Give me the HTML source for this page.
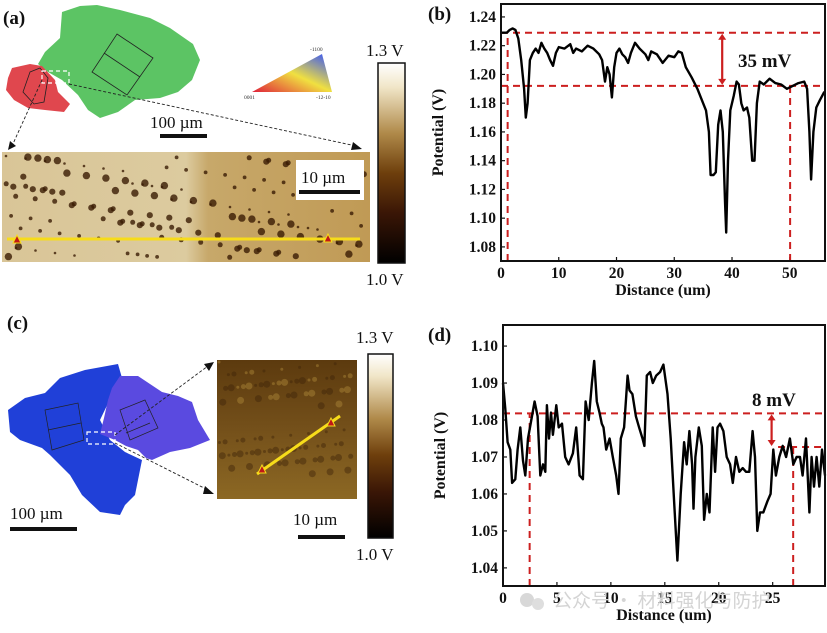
<!DOCTYPE html>
<html><head><meta charset="utf-8"><style>
html,body{margin:0;padding:0;background:#fff;}
svg{display:block;font-family:"Liberation Serif","Noto Serif CJK SC",serif;}
.tk{font-size:15.5px;font-weight:bold;fill:#111;}
.tt{font-size:16px;font-weight:bold;fill:#111;}
.pl{font-size:19px;font-weight:bold;fill:#111;}
</style></head><body>
<svg id="fig" width="827" height="633" viewBox="0 0 827 633" xmlns="http://www.w3.org/2000/svg">
<defs>
<linearGradient id="cbar" x1="0" y1="0" x2="0" y2="1">
<stop offset="0" stop-color="#ffffff"/><stop offset="0.12" stop-color="#f1e6c8"/><stop offset="0.35" stop-color="#b08a4a"/><stop offset="0.55" stop-color="#6e3f0c"/><stop offset="0.75" stop-color="#3a1606"/><stop offset="1" stop-color="#000"/>
</linearGradient>
<linearGradient id="afmA" x1="0" y1="0" x2="1" y2="0">
<stop offset="0" stop-color="#d9c597"/><stop offset="0.5" stop-color="#dccb9f"/><stop offset="0.56" stop-color="#c7a86a"/><stop offset="1" stop-color="#c09a55"/>
</linearGradient>
<linearGradient id="afmC" x1="0" y1="0" x2="0" y2="1">
<stop offset="0" stop-color="#5c3a0e"/><stop offset="0.5" stop-color="#74501a"/><stop offset="1" stop-color="#8c6824"/>
</linearGradient>
<linearGradient id="ipf" x1="0" y1="1" x2="1" y2="0">
<stop offset="0" stop-color="#e0203a"/><stop offset="0.5" stop-color="#f0e040"/><stop offset="1" stop-color="#3050ff"/>
</linearGradient>
</defs>

<!-- ===== Panel (a) ===== -->
<text class="pl" x="3" y="24">(a)</text>
<polygon fill="#5cc464" points="62,12 80,6 97,5 120,10 150,18 170,28 193,44 200,60 192,80 178,92 160,98 135,100 118,112 100,118 88,110 78,95 62,80 48,72 38,64 45,52 60,38"/>
<polygon fill="#e0474e" points="12,68 30,64 42,66 55,80 58,92 70,104 64,112 45,110 28,108 14,100 6,90 8,78"/>
<polygon fill="none" stroke="#222" stroke-width="0.8" points="117,34 153,58 127,95 92,72"/>
<line x1="104" y1="53" x2="140" y2="77" stroke="#222" stroke-width="0.8"/>
<polygon fill="none" stroke="#222" stroke-width="0.8" points="30,72 40,68 48,78 44,102 34,104 23,92"/>
<rect x="42" y="71" width="27" height="12" fill="none" stroke="#fff" stroke-width="1.2" stroke-dasharray="4,3"/>
<line x1="42" y1="80" x2="12" y2="146" stroke="#222" stroke-width="0.9" stroke-dasharray="3,2"/>
<polygon points="8,150 10,141 16,146" fill="#111"/>
<line x1="69" y1="84" x2="356" y2="146" stroke="#222" stroke-width="0.9" stroke-dasharray="3,2"/>
<polygon points="362,149 353,142 351,150" fill="#111"/>
<polygon fill="url(#ipf)" points="252,92 322,54 332,92"/>
<text x="310" y="51" font-size="5.5" fill="#333">-1100</text>
<text x="244" y="99" font-size="5.5" fill="#333">0001</text>
<text x="316" y="99" font-size="5.5" fill="#333">-12-10</text>
<text x="150" y="128" font-size="17" fill="#111">100 µm</text>
<rect x="160" y="134" width="47" height="4" fill="#111"/>
<rect id="afmArect" x="2" y="152" width="368" height="110" fill="url(#afmA)"/>
<g id="dotsA"></g>
<rect x="296" y="160" width="68" height="40" fill="#fff"/>
<text x="301" y="183" font-size="17" fill="#111">10 µm</text>
<rect x="299" y="190" width="61" height="4" fill="#111"/>
<line x1="7" y1="239" x2="360" y2="239" stroke="#f7dc1a" stroke-width="3"/>
<polygon points="17,235 13,243 21,243" fill="#c01818" stroke="#f7dc1a" stroke-width="1"/>
<polygon points="328,234 324,242 332,242" fill="#c01818" stroke="#f7dc1a" stroke-width="1"/>
<text x="366" y="56" font-size="17" fill="#111">1.3 V</text>
<rect x="378" y="63" width="27" height="200" fill="url(#cbar)" stroke="#111" stroke-width="1.5"/>
<text x="366" y="285" font-size="17" fill="#111">1.0 V</text>

<!-- ===== Panel (c) ===== -->
<text class="pl" x="7" y="329">(c)</text>
<polygon fill="#2040d8" points="8,410 25,398 45,393 60,378 85,370 118,364 122,378 112,395 100,420 110,440 125,452 142,460 140,470 135,495 125,505 120,515 100,512 82,495 70,475 50,455 42,448 20,440 10,432"/>
<polygon fill="#5a4ae0" points="120,376 138,376 150,384 162,392 178,396 192,402 198,420 210,440 190,448 170,452 152,460 146,458 138,450 126,446 115,440 100,434 104,418 108,400 112,388"/>
<polygon fill="none" stroke="#222" stroke-width="0.7" points="45,410 78,403 84,440 52,450"/>
<line x1="48" y1="430" x2="81" y2="423" stroke="#222" stroke-width="0.7"/>
<polygon fill="none" stroke="#222" stroke-width="0.7" points="120,410 145,400 158,428 130,440"/>
<line x1="126" y1="433" x2="150" y2="423" stroke="#222" stroke-width="0.7"/>
<rect x="87" y="432" width="28" height="12" fill="none" stroke="#fff" stroke-width="1.2" stroke-dasharray="4,3"/>
<line x1="115" y1="435" x2="208" y2="366" stroke="#222" stroke-width="0.9" stroke-dasharray="3,2"/>
<polygon points="214,362 204,364 209,371" fill="#111"/>
<line x1="115" y1="443" x2="208" y2="490" stroke="#222" stroke-width="0.9" stroke-dasharray="3,2"/>
<polygon points="214,494 205,486 203,494" fill="#111"/>
<rect x="217" y="360" width="140" height="139" fill="url(#afmC)"/>
<g id="texC"></g>
<line x1="257" y1="474" x2="340" y2="416" stroke="#f7dc1a" stroke-width="3"/>
<polygon points="262,465 258,473 266,473" fill="#c01818" stroke="#f7dc1a" stroke-width="1"/>
<polygon points="331,418 327,426 335,426" fill="#c01818" stroke="#f7dc1a" stroke-width="1"/>
<text x="10" y="519" font-size="17" fill="#111">100 µm</text>
<rect x="10" y="527" width="67" height="4" fill="#111"/>
<text x="293" y="525" font-size="17" fill="#111">10 µm</text>
<rect x="298" y="535" width="47" height="4" fill="#111"/>
<text x="356" y="343" font-size="17" fill="#111">1.3 V</text>
<rect x="368" y="354" width="25" height="184" fill="url(#cbar)" stroke="#111" stroke-width="1.5"/>
<text x="356" y="560" font-size="17" fill="#111">1.0 V</text>

<g id="chartB"></g>
<g id="chartD"></g>
<text x="553" y="607" font-size="19" fill="#d4d4d4" font-family="'Noto Sans CJK SC',sans-serif">公众号 · 材料强化与防护</text>
<circle cx="527" cy="600" r="7" fill="#d8d8d8"/><circle cx="538" cy="604" r="6" fill="#dedede"/>
</svg>
<script>
// ---- chart (b) data ----
const bTicksX = [0,10,20,30,40,50];
const bTicksY = [1.08,1.10,1.12,1.14,1.16,1.18,1.20,1.22,1.24];
const bDist = [0,0.5,1,1.5,2,2.5,3,3.5,4,4.3,4.6,5,5.5,6,6.5,7,7.5,8,8.5,9,9.5,10,11,12,12.5,13,14,15,16,17,17.5,18,18.4,18.8,19.2,19.6,20,20.5,21,21.5,22,22.5,23.2,24,25,25.5,26,27,28,29,30,30.7,31.3,32,33,34,35,35.5,36,36.3,36.8,37.2,37.6,38,38.4,38.8,39,39.3,39.7,40.3,40.8,41.2,41.6,42,42.6,43,43.5,43.9,44.3,44.8,45.5,46.5,47.5,48.5,49.5,50.5,51.5,52.5,53,53.4,53.7,54.1,54.6,55.2,56];
const bPot  = [1.229,1.229,1.229,1.231,1.232,1.231,1.225,1.21,1.19,1.17,1.18,1.21,1.215,1.218,1.215,1.222,1.218,1.215,1.21,1.206,1.215,1.219,1.218,1.221,1.215,1.218,1.216,1.22,1.218,1.214,1.21,1.195,1.205,1.2,1.184,1.205,1.215,1.218,1.214,1.212,1.208,1.215,1.222,1.218,1.214,1.21,1.216,1.214,1.208,1.213,1.212,1.216,1.215,1.205,1.198,1.19,1.18,1.175,1.16,1.13,1.13,1.132,1.165,1.175,1.16,1.11,1.09,1.14,1.175,1.185,1.195,1.193,1.18,1.175,1.177,1.17,1.14,1.14,1.18,1.195,1.193,1.197,1.194,1.193,1.19,1.192,1.194,1.195,1.19,1.16,1.127,1.16,1.177,1.182,1.188];
const bGuideY = [1.229,1.192];
const bGuideX = [1.15,50.06];
// ---- chart (d) data ----
const dTicksX = [0,5,10,15,20,25];
const dTicksY = [1.04,1.05,1.06,1.07,1.08,1.09,1.10];
const dDist = [0,0.21,0.43,0.68,0.84,1.14,1.35,1.6,1.85,2.07,2.32,2.62,2.93,3.21,3.46,3.71,3.92,4.07,4.26,4.45,4.63,4.94,5.16,5.47,5.77,6.08,6.48,6.79,7.1,7.41,7.66,7.94,8.24,8.45,8.7,8.95,9.16,9.32,9.57,9.88,10.18,10.49,10.71,10.92,11.23,11.55,11.73,12.0,12.32,12.62,12.93,13.11,13.33,13.64,13.89,14.2,14.56,14.87,15.25,15.55,15.86,16.17,16.47,16.79,17.03,17.28,17.53,17.66,17.84,18.15,18.43,18.64,18.89,19.14,19.44,19.66,19.88,20.13,20.43,20.74,21.05,21.3,21.6,21.91,22.22,22.53,22.83,23.14,23.36,23.57,23.82,24.13,24.51,24.81,25.06,25.3,25.61,25.93,26.24,26.6,26.91,27.22,27.53,27.77,28.09,28.4,28.61,28.83,29.07,29.32,29.57,29.85];
const dPot = [1.09,1.083,1.074,1.072,1.063,1.064,1.072,1.078,1.069,1.065,1.075,1.08,1.085,1.081,1.065,1.068,1.066,1.084,1.075,1.082,1.076,1.084,1.078,1.079,1.07,1.068,1.071,1.078,1.065,1.064,1.085,1.08,1.09,1.096,1.085,1.082,1.079,1.078,1.072,1.075,1.07,1.065,1.06,1.075,1.078,1.092,1.088,1.087,1.081,1.078,1.075,1.073,1.092,1.093,1.09,1.092,1.093,1.095,1.087,1.075,1.058,1.042,1.06,1.074,1.068,1.077,1.068,1.056,1.07,1.078,1.073,1.053,1.06,1.055,1.078,1.066,1.078,1.079,1.077,1.07,1.068,1.063,1.07,1.066,1.067,1.066,1.066,1.077,1.07,1.05,1.055,1.055,1.058,1.06,1.072,1.065,1.07,1.073,1.07,1.075,1.068,1.07,1.07,1.065,1.075,1.055,1.07,1.062,1.07,1.062,1.072,1.065];
const dGuideY = [1.0818,1.0727];
const dGuideX = [2.47,26.9];

const NS = 'http://www.w3.org/2000/svg';
function mk(parent, tag, attrs, txt){
  const e = document.createElementNS(NS, tag);
  for (const k in attrs) e.setAttribute(k, attrs[k]);
  if (txt !== undefined) e.textContent = txt;
  parent.appendChild(e); return e;
}

function drawChart(g, cfg){
  const sx = v => cfg.L + (v - cfg.x0) / (cfg.x1 - cfg.x0) * (cfg.R - cfg.L);
  const sy = v => cfg.B - (v - cfg.y0) / (cfg.y1 - cfg.y0) * (cfg.B - cfg.T);
  cfg.ticksX.forEach(t => {
    const l = mk(g,'line',{x1:sx(t),x2:sx(t),y1:cfg.B,y2:cfg.B-4,stroke:'#111','stroke-width':1.2});
    
    
    const tx = mk(g,'text',{x:sx(t),y:cfg.B+17,'text-anchor':'middle',class:'tk'},String(t));
    
    
  });
  cfg.ticksY.forEach(t => {
    const l = mk(g,'line',{x1:cfg.L,x2:cfg.L+4,y1:sy(t),y2:sy(t),stroke:'#111','stroke-width':1.2});
    
    
    const tx = mk(g,'text',{x:cfg.L-5,y:sy(t)+5,'text-anchor':'end',class:'tk'},t.toFixed(2));
    
    
  });
  const red = '#cc1f1f';
  const h1 = mk(g,'line',{x1:cfg.L,x2:cfg.R,y1:sy(cfg.gy[0]),y2:sy(cfg.gy[0]),stroke:red,'stroke-width':2,'stroke-dasharray':'7,5'});
  
  
  const h2 = mk(g,'line',{x1:cfg.h2start!==undefined?sx(cfg.h2start):cfg.L,x2:cfg.R,y1:sy(cfg.gy[1]),y2:sy(cfg.gy[1]),stroke:red,'stroke-width':2,'stroke-dasharray':'7,5'});
  
  
  const v1 = mk(g,'line',{x1:sx(cfg.gx[0]),x2:sx(cfg.gx[0]),y1:cfg.B,y2:sy(cfg.gy[0]),stroke:red,'stroke-width':2,'stroke-dasharray':'7,5'});
  
  
  const v2 = mk(g,'line',{x1:sx(cfg.gx[1]),x2:sx(cfg.gx[1]),y1:cfg.B,y2:sy(cfg.gy[1]),stroke:red,'stroke-width':2,'stroke-dasharray':'7,5'});
  
  
  const ax = sx(cfg.arrowX), ya = sy(cfg.gy[0]), yb = sy(cfg.gy[1]);
  const ar = mk(g,'line',{x1:ax,x2:ax,y1:ya+6,y2:yb-6,stroke:red,'stroke-width':2.2});
  
  
  mk(g,'polygon',{points:`${ax-4},${ya+7} ${ax+4},${ya+7} ${ax},${ya+1}`,fill:red});
  mk(g,'polygon',{points:`${ax-4},${yb-7} ${ax+4},${yb-7} ${ax},${yb-1}`,fill:red});
  const lab = mk(g,'text',{x:cfg.labX,y:cfg.labY,'font-size':19,'font-weight':'bold',fill:'#111'},cfg.labText);
  
  
  const d = cfg.xs.map((x,i)=>(i?'L':'M')+sx(x).toFixed(1)+','+sy(cfg.ys[i]).toFixed(1)).join(' ');
  const p = mk(g,'path',{d:d,fill:'none',stroke:'#000','stroke-width':2.4,'stroke-linejoin':'round'});
  
  
  const fr = mk(g,'rect',{x:cfg.L,y:cfg.T,width:cfg.R-cfg.L,height:cfg.B-cfg.T,fill:'none',stroke:'#111','stroke-width':2});
  
  
  const xt = mk(g,'text',{x:(cfg.L+cfg.R)/2,y:cfg.B+34,'text-anchor':'middle',class:'tt'},'Distance (um)');
  
  
  const ytt = mk(g,'text',{x:0,y:0,'text-anchor':'middle',class:'tt',transform:`translate(${cfg.L-58},${(cfg.T+cfg.B)/2}) rotate(-90)`},'Potential (V)');
  
  
  const pl = mk(g,'text',{x:428,y:cfg.T+16,class:'pl'},cfg.panel);
  
  
}

drawChart(document.getElementById('chartB'),{L:501,R:825,T:4,B:261,x0:0,x1:56.1,y0:1.0702,y1:1.249,
  ticksX:bTicksX,ticksY:bTicksY,xs:bDist,ys:bPot,gy:bGuideY,gx:bGuideX,arrowX:38.3,
  labX:738,labY:67,labText:'35 mV',panel:'(b)'});
drawChart(document.getElementById('chartD'),{L:503,R:825,T:325,B:586,x0:0,x1:29.85,y0:1.0351,y1:1.1057,
  ticksX:dTicksX,ticksY:dTicksY,xs:dDist,ys:dPot,gy:dGuideY,gx:dGuideX,arrowX:24.9,h2start:25.5,
  labX:752,labY:406,labText:'8 mV',panel:'(d)'});

// decorative dark pits in AFM image (a)
const gA = document.getElementById('dotsA');
for (let i=0;i<150;i++){
  const x = 6 + ((i*97.3 + (i%5)*17)%360);
  const y = 156 + ((i*53.7 + (i%7)*13)%102);
  const r = 1.3 + ((i*13)%5)*0.6;
  const c = mk(gA,'circle',{cx:x.toFixed(1),cy:y.toFixed(1),r:r,fill:'#3a1c04',opacity:0.8});
  
  
}
// decorative texture in AFM image (c)
const gC = document.getElementById('texC');
for (let i=0;i<90;i++){
  const x = 219 + ((i*41.7)%134);
  const y = 362 + ((i*67.3 + (i%3)*9)%134);
  const c = mk(gC,'circle',{cx:x.toFixed(1),cy:y.toFixed(1),r:1.5+(i%3),fill:(i%4===0)?'#b08a3a':'#3e2408',opacity:0.45});
  
  
}
</script>
</body></html>
